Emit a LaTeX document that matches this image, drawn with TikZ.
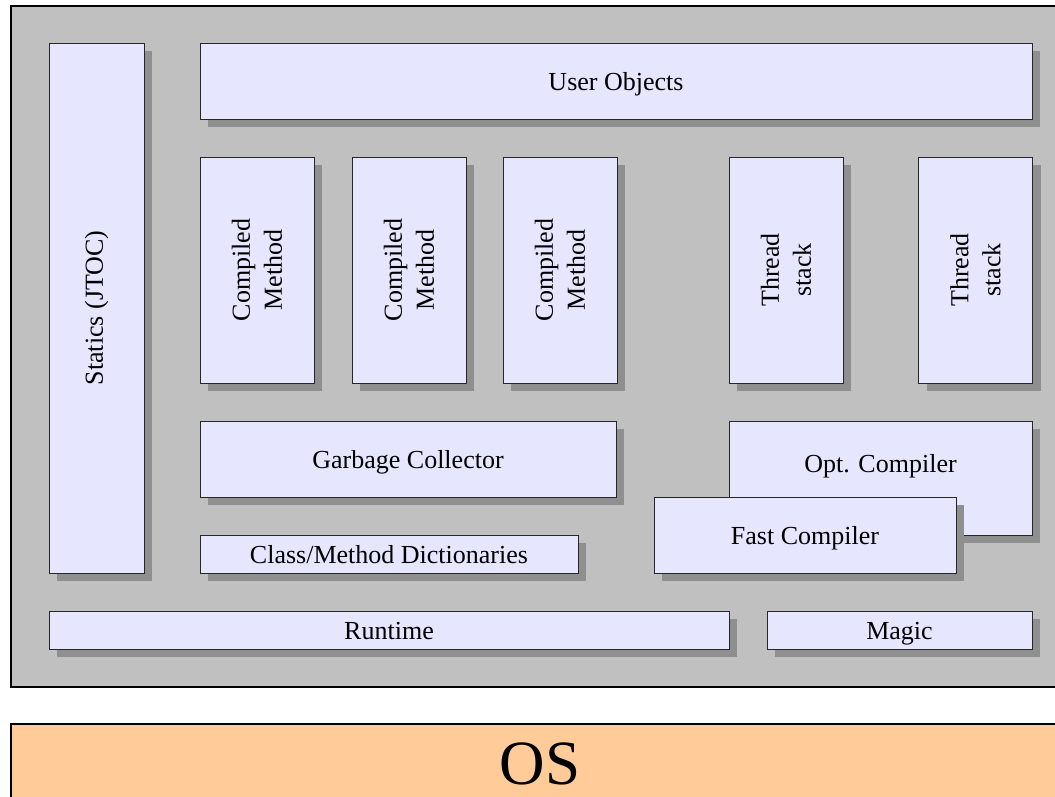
\documentclass[tikz,border=0pt]{standalone}
\usepackage{fontspec}
\setmainfont{Liberation Serif}
\usepackage{tikz}
\usetikzlibrary{calc}
\usetikzlibrary{shadows, positioning}

\definecolor{partfill}{HTML}{E6E6FF}
\definecolor{partshadow}{HTML}{8F8F8F}
\definecolor{vmgray}{HTML}{C0C0C0}
\definecolor{osfill}{HTML}{FFCC99}

\begin{document}
\begin{tikzpicture}[x=1pt,y=-1pt,
                    part/.style={draw=black!85,fill=partfill,line width=1pt,inner sep=0pt,
                      drop shadow={shadow xshift=8pt,shadow yshift=-8pt,fill=partshadow,opacity=1}},
                    label text/.style={font=\fontsize{26}{32}\selectfont,align=center},
                    one line/.style={label text,text height=21pt,text depth=1.6pt}]

  \clip (0,0) rectangle (1055,796);

  \node (vm) [draw,line width=1.2pt,fill=vmgray,minimum width=1059,minimum height=681,inner sep=0pt] at (540.5,346.5) {};
  \node (os) [draw,line width=1.2pt,fill=osfill,minimum width=1059,minimum height=90,inner sep=0pt] at (540.5,769) {};
  \node[font=\fontsize{63}{72}\selectfont,inner sep=0pt,text height=38pt,text depth=4pt] (oslabel) at (540,767) {OS};

  \node[part,minimum width=95,minimum height=530] (statics) at (96.5,308) {};
  \node[part,minimum width=832,minimum height=76,one line] (userobj) at (616,81) {User Objects};

  \node[part,minimum width=114,minimum height=226] (cm1) at (257,270) {};
  \node[part,minimum width=114,minimum height=226] (cm2) at (409,270) {};
  \node[part,minimum width=114,minimum height=226] (cm3) at (560,270) {};
  \node[part,minimum width=114,minimum height=226] (ts1) at (786,270) {};
  \node[part,minimum width=114,minimum height=226] (ts2) at (975.5,270) {};

  \node[part,minimum width=416,minimum height=76,one line] (gc) at (408,459) {Garbage Collector};
  \node[part,minimum width=303,minimum height=114] (opt) at (880.5,478) {};
  \node[part,minimum width=302,minimum height=76,one line] (fast) at (805,535) {Fast Compiler};
  \node[part,minimum width=378,minimum height=38,one line] (dict) at (389,554) {Class/Method Dictionaries};

  \node[part,minimum width=680,minimum height=38,one line] (runtime) at (389,630) {Runtime};
  \node[part,minimum width=265,minimum height=38,one line] (magic) at (899.5,630) {Magic};

  \node[label text,rotate=90] at (statics) {Statics (JTOC)};
  \node[label text,rotate=90] at (cm1) {Compiled\\Method};
  \node[label text,rotate=90] at (cm2) {Compiled\\Method};
  \node[label text,rotate=90] at (cm3) {Compiled\\Method};
  \node[label text,rotate=90] at (ts1) {Thread\\stack};
  \node[label text,rotate=90] at (ts2) {Thread\\stack};
  \node[one line] at ([yshift=15pt]opt.center) {Opt. Compiler};

\end{tikzpicture}
\end{document}
